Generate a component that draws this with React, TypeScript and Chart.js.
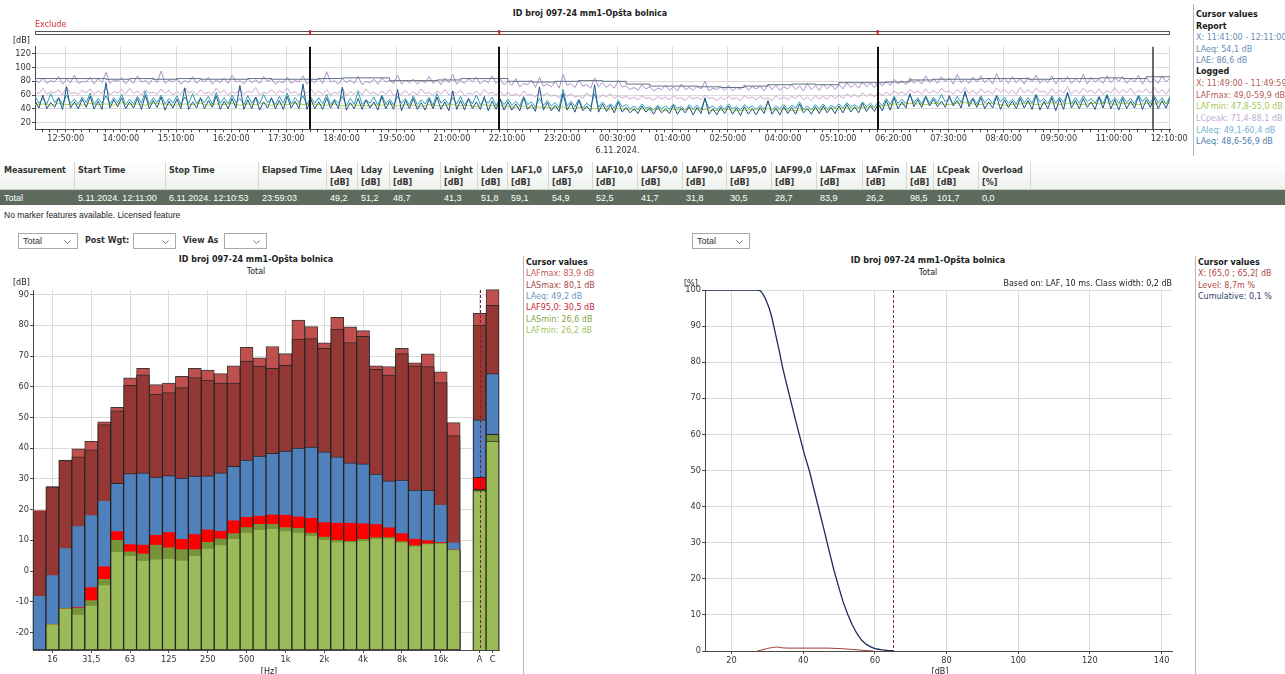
import React, { useEffect, useRef } from 'react';
import { Chart, registerables } from 'chart.js';

Chart.register(...registerables);

const FONT = '"DejaVu Sans", Verdana, sans-serif';
const ROW_FONT = '"Liberation Sans", Arial, sans-serif';

// ================= TOP: time history (10-minute intervals from 12:11:00; max / min per interval) =================
const startClockMinutes = 12 * 60 + 11;
const sampleMinutes = 10;
const totalMinutes = 1440;

const lcPeak = [
  82, 85, 81, 87, 83, 89, 80, 86, 84, 93, 82, 85, 83, 88, 81, 85, 95, 82, 84, 81, 87, 83, 86, 82, 85, 89, 81, 84, 82, 87, 83, 80, 86, 81, 88, 82,
  85, 94, 81, 84, 82, 87, 80, 83, 85, 81, 89, 82, 83, 81, 87, 82, 85, 90, 81, 84, 86, 82, 88, 83,
  80, 84, 77, 82, 86, 76, 80, 90, 77, 82, 75, 85, 78, 76, 81,
  73, 71, 75, 72, 70, 74, 72, 76, 71, 73, 80, 70, 72, 74, 71, 75, 72, 73, 76, 74, 72, 75, 73, 77, 74, 76, 75,
  75, 78, 76, 79, 77, 80,
  80, 83, 81, 85, 82, 88, 84, 87, 85, 90, 83, 86, 88, 84, 91, 85, 87, 84, 86, 89, 83, 88, 85, 87, 84, 90, 86, 83, 88, 85, 87, 84, 89, 86, 83, 88, 85,
];
const lcPeakMin = [
  78, 77, 79, 76, 78, 77, 79, 76, 78, 77, 80, 76, 77, 79, 76, 78, 77, 79, 76, 78, 77, 79, 76, 78, 77, 79, 76, 78, 77, 80, 76, 78, 77, 79, 76, 78,
  77, 79, 76, 78, 77, 75, 78, 76, 79, 77, 76, 78, 76, 78, 77, 75, 78, 76, 77, 79, 76, 78, 77, 75,
  74, 72, 75, 71, 73, 72, 70, 74, 71, 73, 70, 72, 71, 70, 72,
  68, 67, 69, 66, 68, 67, 66, 68, 67, 69, 66, 68, 67, 66, 68, 67, 69, 66, 68, 67, 69, 68, 66, 68, 67, 69, 68,
  69, 71, 70, 72, 71, 73,
  74, 76, 75, 77, 76, 78, 77, 79, 76, 78, 77, 79, 78, 76, 79, 77, 78, 76, 79, 77, 78, 76, 79, 77, 78, 76, 79, 77, 78, 80, 77, 79, 76, 78, 77, 79, 78,
];
const lafMaxTrace = [
  66, 70, 65, 68, 72, 64, 67, 69, 66, 71, 65, 68, 70, 66, 68, 64, 69, 67, 65, 71, 66, 68, 64, 70, 67, 65, 69, 66, 71, 64, 68, 66, 70, 65, 67, 69,
  66, 68, 64, 70, 65, 67, 69, 64, 66, 68, 63, 67, 65, 69, 64, 66, 68, 65, 67, 63, 66, 68, 64, 66,
  64, 62, 66, 61, 65, 63, 60, 64, 62, 59, 63, 61, 60, 62, 59,
  58, 57, 59, 56, 58, 57, 59, 56, 58, 57, 60, 56, 57, 58, 56, 59, 57, 58, 56, 59, 57, 58, 60, 57, 59, 58, 60,
  60, 62, 61, 63, 62, 64,
  64, 66, 65, 68, 66, 69, 67, 70, 66, 68, 71, 67, 69, 66, 70, 68, 67, 71, 68, 70, 66, 69, 67, 72, 68, 70, 67, 69, 66, 71, 68, 70, 67, 69, 71, 68, 70,
];
const lafMaxTraceMin = [
  62, 61, 63, 60, 62, 61, 63, 61, 62, 60, 63, 61, 62, 60, 63, 61, 62, 60, 61, 63, 60, 62, 61, 63, 60, 62, 61, 63, 60, 62, 61, 63, 62, 60, 62, 61,
  61, 60, 62, 59, 61, 60, 62, 60, 61, 59, 61, 60, 60, 62, 59, 61, 60, 62, 59, 61, 60, 62, 60, 59,
  59, 58, 60, 57, 59, 58, 56, 58, 57, 55, 58, 56, 57, 55, 56,
  54, 53, 55, 52, 54, 53, 55, 52, 54, 53, 55, 52, 53, 54, 52, 55, 53, 54, 52, 54, 53, 55, 53, 52, 54, 53, 55,
  55, 57, 56, 58, 57, 59,
  60, 61, 60, 63, 61, 62, 62, 64, 61, 63, 62, 61, 63, 61, 64, 62, 61, 63, 62, 64, 61, 62, 63, 61, 62, 64, 62, 61, 63, 62, 63, 61, 64, 62, 63, 61, 62,
];
const laiEq = [
  58, 55, 62, 56, 60, 54, 57, 63, 55, 59, 56, 61, 54, 58, 66, 56, 60, 55, 59, 57, 62, 55, 58, 64, 56, 60, 55, 59, 57, 61, 55, 58, 63, 56, 59, 57,
  56, 61, 54, 58, 55, 65, 53, 57, 60, 54, 58, 55, 59, 53, 57, 62, 54, 56, 58, 55, 60, 53, 57, 55,
  54, 51, 58, 50, 55, 52, 49, 68, 51, 54, 48, 62, 50, 47, 52,
  46, 44, 47, 43, 45, 44, 47, 43, 46, 45, 54, 44, 45, 47, 43, 46, 44, 45, 48, 44, 46, 45, 50, 44, 46, 47, 45,
  47, 49, 46, 50, 48, 51,
  55, 58, 54, 60, 56, 59, 57, 61, 55, 58, 62, 56, 59, 55, 60, 57, 54, 58, 56, 61, 55, 59, 57, 63, 56, 59, 55, 58, 61, 56, 58, 55, 60, 57, 59, 56, 58,
];
const laiEqMin = [
  48, 47, 49, 46, 48, 47, 49, 46, 48, 47, 49, 46, 47, 48, 46, 49, 47, 48, 46, 48, 47, 49, 46, 48, 47, 49, 46, 48, 47, 49, 46, 48, 47, 49, 46, 48,
  47, 46, 48, 45, 47, 46, 48, 45, 47, 46, 48, 45, 46, 47, 45, 48, 46, 47, 45, 47, 46, 48, 45, 46,
  45, 44, 46, 43, 45, 44, 42, 44, 43, 41, 43, 42, 42, 41, 43,
  40, 39, 41, 38, 40, 39, 41, 38, 40, 39, 41, 38, 39, 40, 38, 41, 39, 40, 38, 40, 39, 41, 39, 38, 40, 39, 41,
  41, 42, 41, 43, 42, 44,
  46, 48, 47, 49, 47, 48, 48, 50, 47, 49, 48, 47, 49, 47, 50, 48, 47, 49, 48, 50, 47, 48, 49, 47, 48, 50, 48, 47, 49, 48, 49, 47, 50, 48, 49, 47, 48,
];
const laEq = [
  52, 60, 49, 56, 72, 50, 54, 58, 51, 78, 53, 56, 50, 55, 60, 52, 57, 51, 54, 70, 50, 56, 52, 59, 51, 55, 74, 53, 57, 50, 56, 52, 58, 51, 76, 54,
  50, 56, 52, 71, 49, 55, 53, 50, 58, 51, 68, 52, 55, 49, 54, 57, 50, 66, 52, 55, 50, 58, 51, 54,
  50, 47, 56, 46, 72, 49, 45, 62, 48, 52, 44, 75, 47, 45, 50,
  42, 40, 44, 41, 43, 40, 45, 41, 43, 42, 56, 40, 42, 44, 41, 43, 40, 42, 52, 41, 43, 42, 47, 40, 43, 44, 42,
  44, 46, 43, 48, 45, 47,
  52, 56, 50, 62, 53, 57, 54, 51, 59, 52, 66, 54, 56, 50, 58, 53, 51, 55, 52, 60, 51, 56, 54, 64, 52, 55, 50, 57, 59, 53, 55, 51, 58, 53, 56, 52, 55,
];
const laEqMin = [
  41, 40, 42, 39, 41, 40, 42, 40, 39, 41, 43, 40, 41, 39, 40, 42, 38, 41, 40, 39, 41, 40, 42, 39, 40, 41, 39, 40, 38, 41, 40, 39, 41, 40, 39, 40,
  39, 41, 40, 38, 40, 39, 41, 38, 40, 39, 37, 40, 39, 38, 40, 39, 37, 39, 38, 40, 39, 37, 39, 38,
  38, 37, 39, 36, 38, 37, 36, 38, 35, 37, 36, 35, 36, 34, 35,
  34, 33, 35, 32, 34, 33, 32, 34, 31, 33, 32, 31, 33, 32, 30, 32, 31, 33, 32, 31, 33, 32, 34, 32, 33, 34, 33,
  34, 35, 34, 36, 36, 37,
  38, 40, 41, 43, 42, 44, 43, 42, 44, 41, 43, 42, 40, 41, 39, 42, 40, 41, 39, 38, 40, 37, 39, 41, 40, 42, 39, 41, 40, 38, 40, 41, 39, 42, 40, 41, 40,
];
const lafMin = [
  46, 47, 45, 48, 46, 47, 45, 48, 46, 47, 45, 49, 46, 47, 45, 48, 47, 46, 45, 47, 46, 48, 45, 47, 46, 48, 45, 47, 46, 48, 45, 47, 46, 48, 46, 47,
  46, 45, 47, 44, 46, 45, 44, 46, 45, 47, 44, 46, 45, 43, 46, 44, 45, 46, 44, 45, 43, 46, 44, 45,
  43, 42, 44, 41, 43, 42, 41, 43, 40, 42, 41, 40, 41, 39, 40,
  39, 38, 40, 38, 39, 37, 39, 38, 40, 38, 39, 37, 38, 39, 37, 38, 39, 38, 40, 38, 39, 37, 38, 39, 38, 39, 40,
  40, 41, 40, 42, 42, 43,
  45, 47, 46, 48, 47, 46, 48, 47, 46, 48, 49, 47, 46, 48, 47, 45, 46, 47, 48, 46, 47, 49, 46, 48, 47, 46, 48, 47, 49, 46, 48, 47, 46, 48, 47, 49, 48,
];
// Report (30-minute) LAE steps
const reportIntervalMinutes = 30;
const reportLAE = [
  84, 84, 84, 83, 84, 83, 84, 83, 83, 84, 83, 83, 84, 85, 85, 81, 81, 82, 84, 84, 80, 79, 80, 81,
  80, 76, 73, 73, 72, 71, 73, 75, 76, 75, 78, 78, 79, 82, 83, 83, 84, 84, 83, 84, 84, 85, 84, 86.6,
];
const periodMarkerMinutes = [349, 589, 1069]; // 18:00, 22:00, 06:00
const cursorMinute = 1418; // 11:49
const majorTickFirst = 39; // 12:50:00
const majorTickStep = 70;
const minorTickStep = 10;
const dateChangeTick = 739; // 00:30:00
const dateChangeLabel = '6.11.2024.';

// ================= Table =================
const tableHeaders = ['Measurement', 'Start Time', 'Stop Time', 'Elapsed Time', 'LAeq', 'Lday', 'Levening', 'Lnight', 'Lden', 'LAF1,0', 'LAF5,0', 'LAF10,0', 'LAF50,0', 'LAF90,0', 'LAF95,0', 'LAF99,0', 'LAFmax', 'LAFmin', 'LAE', 'LCpeak', 'Overload'];
const tableUnits = ['', '', '', '', '[dB]', '[dB]', '[dB]', '[dB]', '[dB]', '[dB]', '[dB]', '[dB]', '[dB]', '[dB]', '[dB]', '[dB]', '[dB]', '[dB]', '[dB]', '[dB]', '[%]'];
const tableRow = ['Total', '5.11.2024. 12:11:00', '6.11.2024. 12:10:53', '23:59:03', '49,2', '51,2', '48,7', '41,3', '51,8', '59,1', '54,9', '52,5', '41,7', '31,8', '30,5', '28,7', '83,9', '26,2', '98,5', '101,7', '0,0'];
const colLeft = [0, 74, 165, 258, 326, 357, 389, 440, 477, 507, 548, 592, 637, 682, 726, 771, 816, 862, 906, 933, 978, 1030];

// ================= Bottom left: spectrum =================
const bandLabels = ['12,5', '16', '20', '25', '31,5', '40', '50', '63', '80', '100', '125', '160', '200', '250', '315', '400', '500', '630', '800', '1k', '1,25k', '1,6k', '2k', '2,5k', '3,15k', '4k', '5k', '6,3k', '8k', '10k', '12,5k', '16k', '20k', '', 'A', 'C'];
const shownBandLabels = ['16', '31,5', '63', '125', '250', '500', '1k', '2k', '4k', '8k', '16k', 'A', 'C'];
const spLAFmax = [19.8, 27.5, 36.1, 39.8, 42.2, 48.6, 53.3, 62.9, 66.0, 60.7, 61.2, 63.4, 66.0, 65.4, 64.3, 66.8, 72.8, 69.4, 73.1, 70.8, 81.7, 79.6, 74.3, 82.6, 79.5, 78.3, 66.8, 66.6, 72.5, 67.8, 70.7, 64.9, 48.3, null, 83.9, 91.6];
const spLASmax = [19.6, 27.4, 36.0, 37.2, 39.5, 47.7, 52.2, 60.5, 63.9, 57.6, 58.1, 59.7, 63.0, 62.2, 61.2, 61.2, 68.4, 66.7, 66.0, 67.0, 75.5, 75.7, 72.5, 78.8, 74.4, 76.4, 65.7, 63.8, 70.8, 66.8, 66.6, 61.4, 44.1, null, 80.1, 86.5];
const spLAeq = [-8.1, -1.4, 7.4, 14.6, 18.2, 22.8, 28.6, 31.7, 32.0, 30.6, 31.1, 30.3, 30.9, 31.0, 32.0, 34.1, 36.1, 37.4, 38.3, 39.1, 40.0, 40.4, 38.8, 37.2, 35.2, 34.9, 31.6, 29.4, 29.6, 26.4, 26.4, 21.5, 9.3, null, 49.2, 64.3];
const spLAF95 = [-27.5, -17.2, -12.0, -11.8, -5.3, 1.5, 13.0, 8.7, 8.6, 11.7, 12.6, 10.4, 12.0, 13.5, 13.1, 16.5, 17.6, 18.0, 18.4, 18.3, 17.8, 17.3, 15.9, 15.7, 15.7, 15.5, 15.2, 14.2, 12.3, 10.5, 10.0, 9.4, 7.0, null, 30.5, 44.6];
const spLASmin = [-28.0, -17.3, -12.1, -12.0, -9.5, -2.6, 10.1, 6.4, 5.7, 8.6, 7.7, 7.1, 7.1, 9.5, 10.6, 12.3, 14.3, 15.3, 15.3, 14.3, 14.0, 12.5, 11.2, 10.1, 9.8, 10.4, 11.0, 11.0, 9.7, 8.4, 9.0, 9.1, 7.0, null, 26.6, 44.5];
const spLAFmin = [-29.0, -17.4, -12.3, -14.2, -11.3, -4.6, 6.2, 4.9, 3.3, 3.8, 4.0, 3.4, 4.9, 7.3, 8.4, 10.4, 12.5, 13.4, 13.7, 13.0, 12.5, 11.5, 10.1, 9.4, 9.4, 9.7, 10.4, 10.6, 9.3, 8.0, 8.7, 8.9, 6.8, null, 26.2, 42.3];
const spectrumYTicks = [-20, -10, 0, 10, 20, 30, 40, 50, 60, 70, 80, 90];
const spectrumCursorBand = 'A';

// ================= Bottom right: cumulative distribution =================
const cumLevel = [12.6, 27.0, 28.0, 28.7, 29.5, 30.5, 31.2, 31.8, 32.5, 33.3, 34.2, 35.2, 36.4, 37.7, 39.0, 40.3, 41.7, 43.0, 44.4, 45.8, 47.2, 48.6, 50.0, 51.2, 52.5, 53.7, 54.9, 56.2, 57.5, 59.1, 60.5, 62.0, 63.5, 65.1];
const cumPercent = [100, 100, 99.8, 99, 97.5, 95, 92.6, 90, 86.8, 83.2, 78.8, 74.6, 69.8, 64.6, 59.6, 54.6, 50, 44.8, 39.2, 33.6, 27.9, 22.3, 17.4, 13.4, 10, 7.2, 5, 3.1, 1.9, 1.0, 0.55, 0.3, 0.15, 0.1];
const histLevel = [27.2, 28.5, 30.0, 31.5, 32.8, 34.0, 35.5, 38.0, 41.0, 44.0, 47.0, 49.5, 51.5, 53.5, 55.5, 57.5, 59.5];
const histPercent = [0, 0.3, 0.7, 1.0, 1.1, 0.9, 0.8, 0.8, 0.8, 0.8, 0.8, 0.7, 0.6, 0.45, 0.3, 0.12, 0.02];
const cumXTicks = [20, 40, 60, 80, 100, 120, 140];
const cumYTicks = [0, 10, 20, 30, 40, 50, 60, 70, 80, 90, 100];
const cumCursorLevel = 65.1;

// ================= Legends =================
const topLegend = [
  { t: 'Cursor values', c: '#1a1a1a', b: true },
  { t: 'Report', c: '#1a1a1a', b: true },
  { t: 'X: 11:41:00 - 12:11:00', c: '#6a8db2' },
  { t: 'LAeq: 54,1 dB', c: '#6a8db2' },
  { t: 'LAE: 86,6 dB', c: '#6a8db2' },
  { t: 'Logged', c: '#1a1a1a', b: true },
  { t: 'X: 11:49:00 - 11:49:59', c: '#b65a58' },
  { t: 'LAFmax: 49,0-59,9 dB', c: '#b65a58' },
  { t: 'LAFmin: 47,8-55,0 dB', c: '#a6c65a' },
  { t: 'LCpeak: 71,4-88,1 dB', c: '#c2add9' },
  { t: 'LAIeq: 49,1-60,4 dB', c: '#72b4cf' },
  { t: 'LAeq: 48,6-56,9 dB', c: '#4f7dab' },
];
const spectrumLegend = [
  { t: 'Cursor values', c: '#1a1a1a', b: true },
  { t: 'LAFmax: 83,9 dB', c: '#c65c5c' },
  { t: 'LASmax: 80,1 dB', c: '#a84848' },
  { t: 'LAeq: 49,2 dB', c: '#6a96c8' },
  { t: 'LAF95,0: 30,5 dB', c: '#c8283a' },
  { t: 'LASmin: 26,6 dB', c: '#86a64a' },
  { t: 'LAFmin: 26,2 dB', c: '#a2c364' },
];
const cumLegend = [
  { t: 'Cursor values', c: '#1a1a1a', b: true },
  { t: 'X: [65,0 ; 65,2[ dB', c: '#b04848' },
  { t: 'Level: 8,7m %', c: '#b04848' },
  { t: 'Cumulative: 0,1 %', c: '#2e3f6b' },
];

const TITLE = 'ID broj 097-24 mm1-Opšta bolnica';

function clockLabel(m: number): string {
  const t = (startClockMinutes + Math.round(m)) % 1440;
  const h = Math.floor(t / 60);
  const mm = t % 60;
  return `${String(h).padStart(2, '0')}:${String(mm).padStart(2, '0')}:00`;
}
const isMajor = (v: number) => (v - majorTickFirst) % majorTickStep === 0;

const GRID = '#dadada';
const AXIS = '#4a4a4a';
const TRANSPARENT = 'rgba(0,0,0,0)';

function Txt({ x, y, children, style }: { x: number; y: number; children: React.ReactNode; style?: React.CSSProperties }) {
  return (
    <div style={{ position: 'absolute', left: x, top: y - 6, height: 12, lineHeight: '12px', whiteSpace: 'nowrap', ...style }}>
      {children}
    </div>
  );
}

function SelectBox({ x, y, w, label }: { x: number; y: number; w: number; label?: string }) {
  return (
    <div style={{ position: 'absolute', left: x, top: y, width: w, height: 16, border: '1px solid #a9a9a9', background: '#fff', boxSizing: 'border-box' }}>
      {label && <div style={{ position: 'absolute', left: 4, top: 2, fontFamily: ROW_FONT, fontSize: 9, color: '#333', lineHeight: '11px' }}>{label}</div>}
      <svg style={{ position: 'absolute', right: 6, top: 6 }} width="7" height="4">
        <polyline points="0.5,0.5 3.5,3.5 6.5,0.5" fill="none" stroke="#777" strokeWidth="1" />
      </svg>
    </div>
  );
}

export default function App() {
  const topRef = useRef<HTMLCanvasElement>(null);
  const barRef = useRef<HTMLCanvasElement>(null);
  const cumRef = useRef<HTMLCanvasElement>(null);

  useEffect(() => {
    Chart.defaults.font.family = FONT;
    Chart.defaults.font.size = 8;
    Chart.defaults.color = '#333';

    // ---------- top chart ----------
    const pts = (arr: number[]) => arr.map((v, i) => ({ x: i * sampleMinutes, y: v }));
    // max/min envelope of each interval, drawn as max at interval start and min at mid-interval
    const envelope = (maxArr: number[], minArr: number[]) => {
      const out: { x: number; y: number }[] = [];
      maxArr.forEach((v, i) => {
        out.push({ x: i * sampleMinutes, y: v });
        if (i < maxArr.length - 1) out.push({ x: i * sampleMinutes + sampleMinutes / 2, y: minArr[i] });
      });
      return out;
    };
    const lae = reportLAE.map((v, i) => ({ x: i * reportIntervalMinutes, y: v }));
    lae.push({ x: totalMinutes, y: reportLAE[reportLAE.length - 1] });
    const tickVals: number[] = [];
    for (let m = 9; m <= totalMinutes; m += minorTickStep) tickVals.push(m);

    const topDecor = {
      id: 'topDecor',
      afterDatasetsDraw(chart: any) {
        const { ctx, chartArea, scales } = chart;
        const xs = scales.x;
        ctx.save();
        ctx.strokeStyle = '#555';
        ctx.lineWidth = 1;
        ctx.fillStyle = '#fff';
        ctx.fillRect(chartArea.left, 11, chartArea.right - chartArea.left, 3);
        ctx.strokeRect(chartArea.left + 0.5, 11.5, chartArea.right - chartArea.left - 1, 3);
        ctx.fillStyle = '#d42424';
        periodMarkerMinutes.forEach((m) => {
          const px = xs.getPixelForValue(m);
          ctx.fillRect(px - 1, 10, 2, 5);
        });
        ctx.strokeStyle = '#111';
        ctx.lineWidth = 2;
        periodMarkerMinutes.forEach((m) => {
          const px = Math.round(xs.getPixelForValue(m));
          ctx.beginPath();
          ctx.moveTo(px, chartArea.top);
          ctx.lineTo(px, chartArea.bottom);
          ctx.stroke();
        });
        ctx.strokeStyle = '#3a3a3a';
        ctx.lineWidth = 1.5;
        const cx = Math.round(xs.getPixelForValue(cursorMinute));
        ctx.beginPath();
        ctx.moveTo(cx, chartArea.top);
        ctx.lineTo(cx, chartArea.bottom);
        ctx.stroke();
        ctx.restore();
      },
    };

    const lineDs = (label: string, data: any[], color: string, extra: any = {}) => ({
      label, data, borderColor: color, borderWidth: 1, pointRadius: 0, tension: 0, fill: false, ...extra,
    });

    const top = new Chart(topRef.current!, {
      type: 'line',
      data: {
        datasets: [
          lineDs('LAeq', envelope(laEq, laEqMin), '#1f5689'),
          lineDs('LAFmin', pts(lafMin), '#b6d33e'),
          lineDs('LAIeq', envelope(laiEq, laiEqMin), '#2f9db5'),
          lineDs('Report LAE', lae, '#5f7286', { stepped: true }),
          lineDs('LAFmax', envelope(lafMaxTrace, lafMaxTraceMin), '#cba8ce'),
          lineDs('LCpeak', envelope(lcPeak, lcPeakMin), '#a891c8'),
        ],
      },
      options: {
        responsive: false,
        animation: false,
        layout: { padding: { top: 26.7, right: 22, left: 0, bottom: 0 } },
        plugins: { legend: { display: false }, tooltip: { enabled: false }, title: { display: false } },
        scales: {
          x: {
            type: 'linear',
            min: 0,
            max: totalMinutes,
            afterBuildTicks: (s: any) => { s.ticks = tickVals.map((v) => ({ value: v })); },
            afterFit: (s: any) => { s.height = 30.7; },
            ticks: {
              autoSkip: false,
              maxRotation: 0,
              padding: 1,
              color: '#333',
              font: { size: 8.2, lineHeight: 1.45 },
              callback: (v: any) => {
                const n = Number(v);
                if (!isMajor(n)) return '';
                return n === dateChangeTick ? [clockLabel(n), dateChangeLabel] : clockLabel(n);
              },
            },
            grid: {
              color: (c: any) => (c.tick && isMajor(c.tick.value) ? GRID : TRANSPARENT),
              tickColor: AXIS,
              tickLength: 3,
            },
            border: { color: AXIS },
          },
          y: {
            min: 10,
            max: 130.5,
            afterBuildTicks: (s: any) => { s.ticks = [20, 40, 60, 80, 100, 120].map((v) => ({ value: v })); },
            afterFit: (s: any) => { s.width = 35; },
            ticks: { padding: 1, color: '#333', font: { size: 8.2 } },
            grid: { color: GRID, tickColor: AXIS, tickLength: 3 },
            border: { color: AXIS },
          },
        },
      },
      plugins: [topDecor],
    } as any);

    // ---------- spectrum ----------
    const Y_MIN = -25.7;
    const Y_MAX = 91.5;
    const floating = (arr: (number | null)[]) => arr.map((v) => (v === null ? null : [Y_MIN, v]));
    const cursorIdx = bandLabels.indexOf(spectrumCursorBand);
    const barDs = (label: string, arr: (number | null)[], color: string) => ({
      label,
      data: floating(arr),
      backgroundColor: color,
      borderColor: 'rgba(35,35,35,0.9)',
      borderWidth: 1,
      borderSkipped: 'start',
      grouped: false,
      categoryPercentage: 1,
      barPercentage: 1,
      clip: { left: 2, right: 2, top: 2, bottom: 0 },
    });
    const barDecor = {
      id: 'barDecor',
      afterDatasetsDraw(chart: any) {
        const { ctx, chartArea, scales } = chart;
        const px = Math.round(scales.x.getPixelForValue(cursorIdx)) + 0.5;
        ctx.save();
        ctx.strokeStyle = '#7a1f3a';
        ctx.lineWidth = 1;
        ctx.setLineDash([3, 2]);
        ctx.beginPath();
        ctx.moveTo(px, chartArea.top);
        ctx.lineTo(px, chartArea.bottom);
        ctx.stroke();
        ctx.restore();
      },
    };
    const shown = (i: number) => shownBandLabels.includes(bandLabels[i]);
    const bar = new Chart(barRef.current!, {
      type: 'bar',
      data: {
        labels: bandLabels,
        datasets: [
          barDs('LAFmin', spLAFmin, '#9bbb59'),
          barDs('LASmin', spLASmin, '#77933c'),
          barDs('LAF95,0', spLAF95, '#ff0000'),
          barDs('LAeq', spLAeq, '#4f81bd'),
          barDs('LASmax', spLASmax, '#953735'),
          barDs('LAFmax', spLAFmax, '#c0504d'),
        ],
      },
      options: {
        responsive: false,
        animation: false,
        layout: { padding: { top: 10, right: 21, left: 0, bottom: 0 } },
        plugins: { legend: { display: false }, tooltip: { enabled: false } },
        scales: {
          x: {
            type: 'category',
            afterFit: (s: any) => { s.height = 24; },
            ticks: {
              autoSkip: false,
              maxRotation: 0,
              padding: 2,
              color: '#333',
              font: { size: 8.2 },
              callback: (_v: any, i: number) => (shown(i) ? bandLabels[i] : ''),
            },
            grid: {
              offset: false,
              color: (c: any) => (shown(c.index) ? GRID : TRANSPARENT),
              tickColor: (c: any) => (shown(c.index) ? AXIS : TRANSPARENT),
              tickLength: 3,
            },
            border: { color: AXIS },
          },
          y: {
            min: Y_MIN,
            max: Y_MAX,
            afterBuildTicks: (s: any) => { s.ticks = spectrumYTicks.map((v) => ({ value: v })); },
            afterFit: (s: any) => { s.width = 33; },
            ticks: { padding: 1, color: '#333', font: { size: 8.2 } },
            grid: { color: GRID, tickColor: AXIS, tickLength: 3 },
            border: { color: AXIS },
          },
        },
      },
      plugins: [barDecor],
    } as any);

    // ---------- cumulative ----------
    const cumDecor = {
      id: 'cumDecor',
      afterDatasetsDraw(chart: any) {
        const { ctx, chartArea, scales } = chart;
        const px = Math.round(scales.x.getPixelForValue(cumCursorLevel)) + 0.5;
        ctx.save();
        ctx.strokeStyle = '#7a2a50';
        ctx.lineWidth = 1;
        ctx.setLineDash([3, 2]);
        ctx.beginPath();
        ctx.moveTo(px, chartArea.top);
        ctx.lineTo(px, chartArea.bottom);
        ctx.stroke();
        ctx.restore();
      },
    };
    const cum = new Chart(cumRef.current!, {
      type: 'line',
      data: {
        datasets: [
          lineDs('Cumulative', cumLevel.map((x, i) => ({ x, y: cumPercent[i] })), '#1c2d5a', { borderWidth: 1.3 }),
          lineDs('Level', histLevel.map((x, i) => ({ x, y: histPercent[i] })), '#a23a3a'),
        ],
      },
      options: {
        responsive: false,
        animation: false,
        layout: { padding: { top: 10, right: 23, left: 0, bottom: 0 } },
        plugins: { legend: { display: false }, tooltip: { enabled: false } },
        scales: {
          x: {
            type: 'linear',
            min: 12.6,
            max: 142.9,
            afterBuildTicks: (s: any) => { s.ticks = cumXTicks.map((v) => ({ value: v })); },
            afterFit: (s: any) => { s.height = 23; },
            ticks: { padding: 2, color: '#333', font: { size: 8.2 } },
            grid: { color: GRID, tickColor: AXIS, tickLength: 3 },
            border: { color: AXIS },
          },
          y: {
            min: 0,
            max: 100,
            afterBuildTicks: (s: any) => { s.ticks = cumYTicks.map((v) => ({ value: v })); },
            afterFit: (s: any) => { s.width = 25; },
            ticks: { padding: 1, color: '#333', font: { size: 8.2 } },
            grid: { color: GRID, tickColor: AXIS, tickLength: 3 },
            border: { color: AXIS },
          },
        },
      },
      plugins: [cumDecor],
    } as any);

    return () => {
      top.destroy();
      bar.destroy();
      cum.destroy();
    };
  }, []);

  const bold: React.CSSProperties = { fontWeight: 'bold' };

  return (
    <div style={{ position: 'fixed', left: 0, top: 0, width: 1285, height: 674, overflow: 'hidden', background: '#fff', fontFamily: FONT, fontSize: 8, color: '#222' }}>
      {/* ===== top chart ===== */}
      <canvas ref={topRef} width={1192} height={140} style={{ position: 'absolute', left: 0, top: 20 }} />
      <Txt x={590} y={14} style={{ ...bold, transform: 'translateX(-50%)' }}>{TITLE}</Txt>
      <Txt x={35} y={25} style={{ color: '#d03030' }}>Exclude</Txt>
      <Txt x={13} y={41}>[dB]</Txt>
      <div style={{ position: 'absolute', left: 1193, top: 4, width: 1, height: 152, background: '#b5b5b5' }} />
      {topLegend.map((l, i) => (
        <Txt key={i} x={1196} y={[15, 27, 38, 50, 61, 72, 84, 96, 107, 119, 131, 142][i]} style={{ color: l.c, fontWeight: l.b ? 'bold' : 'normal' }}>{l.t}</Txt>
      ))}

      {/* ===== table ===== */}
      <div style={{ position: 'absolute', left: 0, top: 161, width: 1285, height: 29, background: 'linear-gradient(#ffffff, #eef2ee)', borderBottom: '1px solid #c9cfc9', boxSizing: 'border-box' }} />
      {colLeft.slice(1).map((x, i) => (
        <div key={i} style={{ position: 'absolute', left: x, top: 162, width: 1, height: 28, background: '#d3d8d3' }} />
      ))}
      {tableHeaders.map((h, i) => (
        <React.Fragment key={h}>
          <Txt x={colLeft[i] + 4} y={171} style={{ ...bold, color: '#333' }}>{h}</Txt>
          {tableUnits[i] && <Txt x={colLeft[i] + 4} y={183} style={{ ...bold, color: '#333' }}>{tableUnits[i]}</Txt>}
        </React.Fragment>
      ))}
      <div style={{ position: 'absolute', left: 0, top: 190, width: 1285, height: 15, background: '#5d6b5f' }} />
      {tableRow.map((v, i) => (
        <Txt key={i} x={colLeft[i] + 4} y={198} style={{ color: '#fff', fontFamily: ROW_FONT, fontSize: 9 }}>{v}</Txt>
      ))}
      <Txt x={4} y={215} style={{ fontFamily: ROW_FONT, fontSize: 8.5, color: '#222' }}>No marker features available. Licensed feature</Txt>

      {/* ===== controls ===== */}
      <SelectBox x={18} y={233} w={60} label="Total" />
      <Txt x={85} y={241} style={{ ...bold, color: '#333' }}>Post Wgt:</Txt>
      <SelectBox x={133} y={233} w={43} />
      <Txt x={183} y={241} style={{ ...bold, color: '#333' }}>View As</Txt>
      <SelectBox x={224} y={233} w={43} />
      <SelectBox x={692} y={233} w={58} label="Total" />

      {/* ===== spectrum ===== */}
      <canvas ref={barRef} width={520} height={394} style={{ position: 'absolute', left: 0, top: 280 }} />
      <Txt x={256} y={260} style={{ ...bold, transform: 'translateX(-50%)' }}>{TITLE}</Txt>
      <Txt x={256} y={272} style={{ transform: 'translateX(-50%)' }}>Total</Txt>
      <Txt x={13} y={283}>[dB]</Txt>
      <Txt x={269} y={672} style={{ transform: 'translateX(-50%)' }}>[Hz]</Txt>
      <div style={{ position: 'absolute', left: 523, top: 256, width: 1, height: 418, background: '#b5b5b5' }} />
      {spectrumLegend.map((l, i) => (
        <Txt key={i} x={526} y={263 + i * 11.3} style={{ color: l.c, fontWeight: l.b ? 'bold' : 'normal' }}>{l.t}</Txt>
      ))}

      {/* ===== cumulative ===== */}
      <canvas ref={cumRef} width={515} height={394} style={{ position: 'absolute', left: 680, top: 280 }} />
      <Txt x={928} y={261} style={{ ...bold, transform: 'translateX(-50%)' }}>{TITLE}</Txt>
      <Txt x={928} y={273} style={{ transform: 'translateX(-50%)' }}>Total</Txt>
      <Txt x={1172} y={284} style={{ transform: 'translateX(-100%)' }}>Based on: LAF, 10 ms. Class width: 0,2 dB</Txt>
      <Txt x={684} y={284}>[%]</Txt>
      <Txt x={940} y={672} style={{ transform: 'translateX(-50%)' }}>[dB]</Txt>
      <div style={{ position: 'absolute', left: 1195, top: 256, width: 1, height: 418, background: '#b5b5b5' }} />
      {cumLegend.map((l, i) => (
        <Txt key={i} x={1198} y={263 + i * 11.3} style={{ color: l.c, fontWeight: l.b ? 'bold' : 'normal' }}>{l.t}</Txt>
      ))}
    </div>
  );
}
